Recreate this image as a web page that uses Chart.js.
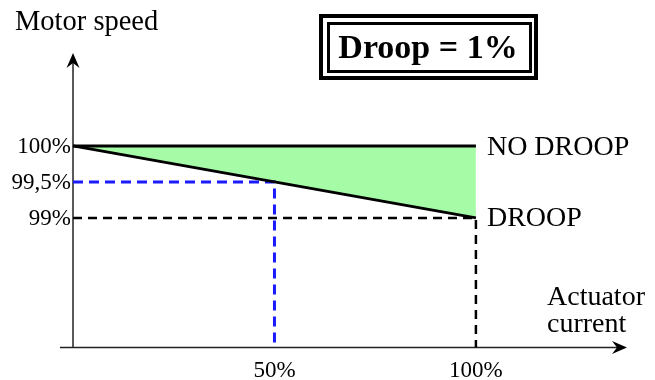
<!DOCTYPE html>
<html>
<head>
<meta charset="utf-8">
<script src="https://cdn.jsdelivr.net/npm/chart.js@4"></script>
<style>
  html, body { margin: 0; padding: 0; background: #fff; }
  #wrap { width: 655px; height: 380px; }
</style>
</head>
<body>
<div id="wrap"><canvas id="droopChart" width="655" height="380"></canvas></div>
<script>
// actuator current (%) and motor speed (%)
const current = [0, 50, 100];
const noDroopSpeed = [100, 100, 100];
const droopSpeed = [100, 99.5, 99];
const xTicks = [50, 100];
const xTickLabels = ['50%', '100%'];
const yTicks = [100, 99.5, 99];
const yTickLabels = ['100%', '99,5%', '99%'];

// axis ranges (origin of the drawn axes is at yMin)
const xMin = -3.23, xMax = 137.5;
const yMin = 97.2, yMax = 101.29;

const SERIF = '"Liberation Serif", "Times New Roman", serif';

const pts = (xs, ys) => xs.map((x, i) => ({ x: x, y: ys[i] }));

// dashed guide from the y axis to a point and down to the x axis
const guide = (i) => [
  { x: 0, y: droopSpeed[i] },
  { x: current[i], y: droopSpeed[i] },
  { x: current[i], y: yMin },
];

const arrow = (ctx, x, y, dir) => {
  // dir: 'up' or 'right'
  ctx.save();
  ctx.translate(x, y);
  if (dir === 'right') ctx.rotate(Math.PI / 2);
  ctx.beginPath();
  ctx.moveTo(0, 0);
  ctx.lineTo(6.5, 15);
  ctx.lineTo(0, 10);
  ctx.lineTo(-6.5, 15);
  ctx.closePath();
  ctx.fillStyle = '#000';
  ctx.fill();
  ctx.restore();
};

const decorations = {
  id: 'decorations',
  beforeDatasetsDraw(chart) {
    const { ctx, scales: { x, y } } = chart;
    const x0 = x.getPixelForValue(0);
    const yb = y.getPixelForValue(yMin);
    ctx.save();
    ctx.strokeStyle = '#222';
    ctx.lineWidth = 1.5;
    ctx.beginPath();
    ctx.moveTo(x0, yb);
    ctx.lineTo(x0, y.getPixelForValue(yMax) + 6);
    ctx.moveTo(x.getPixelForValue(xMin), yb);
    ctx.lineTo(x.getPixelForValue(xMax) - 6, yb);
    ctx.stroke();
    ctx.restore();
  },
  afterDraw(chart) {
    const { ctx, scales: { x, y } } = chart;
    const x0 = x.getPixelForValue(0);
    const yb = y.getPixelForValue(yMin);
    arrow(ctx, x0, y.getPixelForValue(yMax), 'up');
    arrow(ctx, x.getPixelForValue(xMax), yb, 'right');

    ctx.save();
    ctx.fillStyle = '#000';
    ctx.font = '23px ' + SERIF;
    ctx.textBaseline = 'middle';
    ctx.textAlign = 'right';
    yTicks.forEach((v, i) => ctx.fillText(yTickLabels[i], x0 - 2, y.getPixelForValue(v) + 1));
    ctx.textAlign = 'center';
    ctx.textBaseline = 'alphabetic';
    xTicks.forEach((v, i) => ctx.fillText(xTickLabels[i], x.getPixelForValue(v), yb + 29));

    ctx.font = '28.5px ' + SERIF;
    ctx.textAlign = 'left';
    ctx.fillText('Motor speed', 15, 30);
    ctx.font = '28px ' + SERIF;
    ctx.fillText('Actuator', 547, 305);
    ctx.fillText('current', 547, 332);
    const xEnd = x.getPixelForValue(current[current.length - 1]) + 11;
    ctx.textBaseline = 'middle';
    ctx.fillText('NO DROOP', xEnd, y.getPixelForValue(noDroopSpeed[noDroopSpeed.length - 1]) + 2);
    ctx.fillText('DROOP', xEnd, y.getPixelForValue(droopSpeed[droopSpeed.length - 1]) + 1);

    // title box
    ctx.lineWidth = 4;
    ctx.strokeRect(321, 16, 215, 62);
    ctx.lineWidth = 3;
    ctx.strokeRect(328.5, 23.5, 202, 48);
    ctx.font = 'bold 34px ' + SERIF;
    ctx.textBaseline = 'alphabetic';
    ctx.textAlign = 'center';
    ctx.fillText('Droop = 1%', 428, 58);
    ctx.restore();
  },
};

new Chart(document.getElementById('droopChart'), {
  type: 'scatter',
  data: {
    datasets: [
      {
        label: 'NO DROOP',
        data: pts(current, noDroopSpeed),
        showLine: true,
        borderColor: '#000',
        borderWidth: 3,
        pointRadius: 0,
        fill: '+1',
        backgroundColor: '#a6fba6',
      },
      {
        label: 'DROOP',
        data: pts(current, droopSpeed),
        showLine: true,
        borderColor: '#000',
        borderWidth: 3,
        pointRadius: 0,
      },
      {
        label: '50% guide',
        data: guide(1),
        showLine: true,
        borderColor: '#1a1aff',
        borderWidth: 3,
        borderDash: [10, 6],
        pointRadius: 0,
      },
      {
        label: '100% guide',
        data: guide(2),
        showLine: true,
        borderColor: '#000',
        borderWidth: 2.5,
        borderDash: [9, 6],
        pointRadius: 0,
      },
    ],
  },
  options: {
    responsive: false,
    animation: false,
    layout: { padding: { left: 60, right: 28, top: 53, bottom: 32.5 } },
    plugins: {
      legend: { display: false },
      tooltip: { enabled: false },
      filler: { drawTime: 'beforeDatasetsDraw' },
    },
    scales: {
      x: { type: 'linear', min: xMin, max: xMax, display: false },
      y: { type: 'linear', min: yMin, max: yMax, display: false },
    },
  },
  plugins: [decorations],
});
</script>
</body>
</html>
